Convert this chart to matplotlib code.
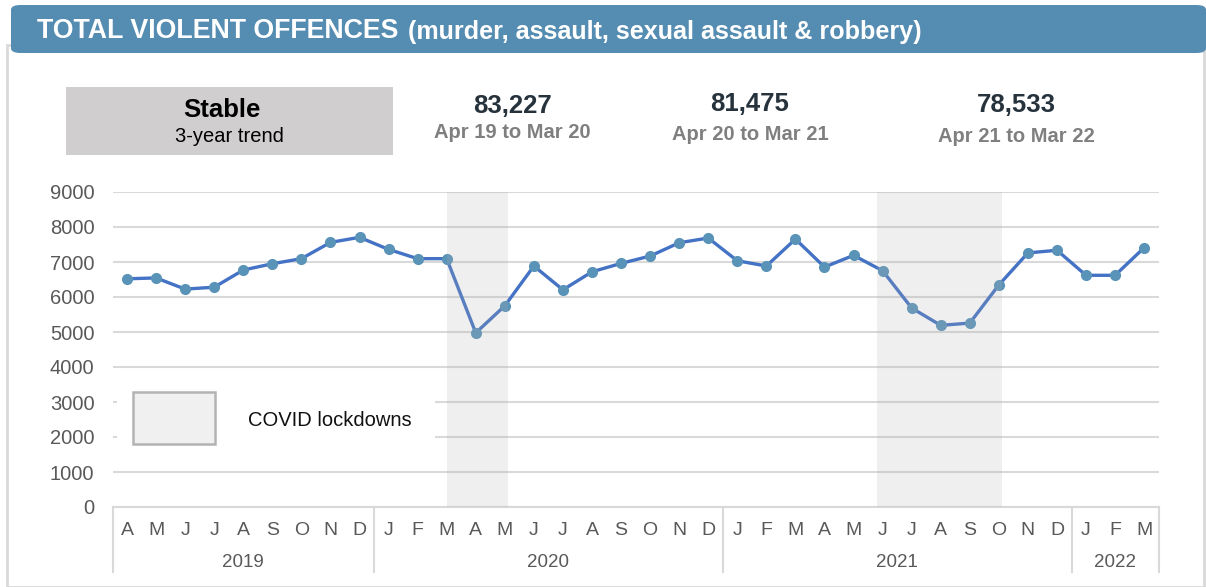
import matplotlib.pyplot as plt
from matplotlib.patches import Rectangle, FancyBboxPatch
import matplotlib.transforms as mtransforms

plt.rcParams['font.family'] = ['Liberation Sans', 'DejaVu Sans']

# monthly totals, Apr 2019 - Mar 2022
months = ['A', 'M', 'J', 'J', 'A', 'S', 'O', 'N', 'D',
          'J', 'F', 'M', 'A', 'M', 'J', 'J', 'A', 'S', 'O', 'N', 'D',
          'J', 'F', 'M', 'A', 'M', 'J', 'J', 'A', 'S', 'O', 'N', 'D',
          'J', 'F', 'M']
offences = [6520, 6545, 6225, 6280, 6770, 6950, 7095, 7560, 7705, 7360, 7095, 7095,
            4975, 5750, 6885, 6205, 6720, 6960, 7170, 7550, 7685, 7035, 6885, 7655,
            6855, 7190, 6750, 5685, 5190, 5255, 6345, 7260, 7335, 6620, 6620, 7410]
years = ['2019', '2020', '2021', '2022']
year_start = [0, 9, 21, 33]
year_end = [8, 20, 32, 35]
lockdowns = [(11, 13.1), (25.8, 30.1)]
totals = ['83,227', '81,475', '78,533']
periods = ['Apr 19 to Mar 20', 'Apr 20 to Mar 21', 'Apr 21 to Mar 22']

W, H = 1206, 587
fig = plt.figure(figsize=(W / 100, H / 100), dpi=100)
fig.patch.set_facecolor('white')

def fx(x):
    return x / W

def fy(y):
    return 1 - y / H

# panel border and title bar
fig.add_artist(Rectangle((fx(7), fy(587)), fx(1204) - fx(7), fy(45) - fy(587),
                         facecolor='white', edgecolor='#d9d9d9', lw=2, zorder=-2))
fig.add_artist(FancyBboxPatch((fx(11), fy(53)), fx(1206) - fx(11), fy(5) - fy(53),
                              boxstyle='round,pad=0,rounding_size=0.008',
                              facecolor='#558cb1', edgecolor='none'))
fig.text(fx(37), fy(31), 'TOTAL VIOLENT OFFENCES', color='white',
         fontsize=19.3, fontweight='bold', va='center', ha='left')
fig.text(fx(408), fy(32), '(murder, assault, sexual assault & robbery)', color='white',
         fontsize=18.1, fontweight='bold', va='center', ha='left')

# trend box
fig.add_artist(Rectangle((fx(66), fy(155)), fx(393) - fx(66), fy(87) - fy(155),
                         facecolor='#d0cece', edgecolor='none'))
fig.text(fx(222), fy(110), 'Stable', fontsize=18.5, fontweight='bold',
         ha='center', va='center', color='black')
fig.text(fx(229), fy(136), '3-year trend', fontsize=14.5, ha='center', va='center', color='black')

for cx, ty, py, tot, per in zip([512, 750, 1016], [106, 104, 105], [132, 134, 137], totals, periods):
    fig.text(fx(cx), fy(ty), tot, fontsize=18.5, fontweight='bold', ha='center',
             va='center', color='#26323c')
    fig.text(fx(cx), fy(py), per, fontsize=14.5, fontweight='bold', ha='center',
             va='center', color='#7f7f7f')

# chart
ax = fig.add_axes([112.5 / W, (H - 507) / H, 1046.2 / W, 315 / H])
ax.patch.set_alpha(0)
x = list(range(len(offences)))
ax.plot(x, offences, color='#4472c4', lw=2.4, zorder=3,
        marker='o', markersize=7, markerfacecolor='#5a93b8', markeredgecolor='#5a93b8')
for a, b in lockdowns:
    ax.axvspan(a, b, color='#b0b0b0', alpha=0.2, lw=0, zorder=5)

ax.set_xlim(-0.5, 35.5)
ax.set_ylim(0, 9000)
ax.set_yticks(range(0, 9001, 1000))
ax.grid(axis='y', color='#d9d9d9', lw=1.5)
ax.set_axisbelow(True)
for s in ['top', 'right', 'left']:
    ax.spines[s].set_visible(False)
ax.spines['bottom'].set_color('#d9d9d9')
ax.spines['bottom'].set_linewidth(1.5)
ax.tick_params(axis='y', length=0, pad=13, labelsize=14.5, labelcolor='#595959')
ax.set_xticks(x)
ax.set_xticklabels(months)
ax.tick_params(axis='x', length=0, pad=11, labelsize=14, labelcolor='#595959')

trans = mtransforms.blended_transform_factory(ax.transData, ax.transAxes)
for bx in [-0.5, 8.5, 20.5, 32.5, 35.5]:
    ax.plot([bx, bx], [0, -0.206], color='#d9d9d9', lw=1.5, transform=trans, clip_on=False)
for yr, s, e in zip(years, year_start, year_end):
    ax.text((s + e) / 2, -0.175, yr, transform=trans, ha='center', va='center',
            fontsize=13.5, color='#595959')

# legend, on a white patch over the gridlines
ax.add_patch(Rectangle((fx(117), fy(455)), fx(435) - fx(117), fy(383) - fy(455),
                       facecolor='white', edgecolor='none', zorder=2,
                       transform=fig.transFigure, clip_on=False))
ax.add_patch(Rectangle((fx(133), fy(444)), fx(215) - fx(133), fy(392) - fy(444),
                       facecolor='#f0f0f0', edgecolor='#b3b3b3', lw=1.8, zorder=2.5,
                       transform=fig.transFigure, clip_on=False))
ax.text(fx(248), fy(421), 'COVID lockdowns', fontsize=14.5, ha='left', va='center',
        color='#111111', zorder=3, transform=fig.transFigure)

fig.savefig('out.png', dpi=100)
